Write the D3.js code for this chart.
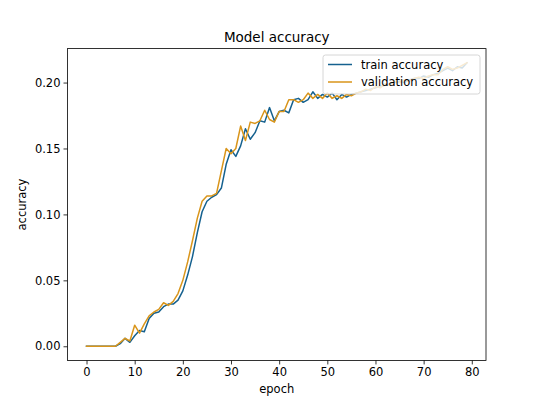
<!DOCTYPE html>
<html>
<head>
<meta charset="utf-8">
<script src="https://cdn.jsdelivr.net/npm/d3@7"></script>
<style>
  body { margin: 0; background: #fff; }
  text { font-family: "DejaVu Sans", sans-serif; fill: #000; }
</style>
</head>
<body>
<div id="chart"></div>
<script>
// accuracy per epoch
var trainAcc = [
  0, 0, 0, 0, 0, 0, 0, 0.002, 0.006, 0.003,
  0.008, 0.012, 0.011, 0.021, 0.025, 0.026, 0.030, 0.032, 0.032, 0.035,
  0.042, 0.054, 0.068, 0.086, 0.102, 0.110, 0.113, 0.115, 0.120, 0.138,
  0.149, 0.144, 0.152, 0.165, 0.157, 0.162, 0.171, 0.170, 0.181, 0.171,
  0.178, 0.179, 0.177, 0.187, 0.188, 0.185, 0.187, 0.193, 0.188, 0.191,
  0.189, 0.192, 0.187, 0.191, 0.189, 0.191, 0.192, 0.193, 0.194, 0.195,
  0.196, 0.197, 0.198, 0.199, 0.200, 0.201, 0.200, 0.202, 0.203, 0.203,
  0.205, 0.204, 0.206, 0.207, 0.209, 0.211, 0.209, 0.212, 0.211, 0.215
];
var valAcc = [
  0, 0, 0, 0, 0, 0, 0, 0.003, 0.006, 0.004,
  0.016, 0.010, 0.017, 0.023, 0.026, 0.028, 0.033, 0.031, 0.034, 0.040,
  0.050, 0.064, 0.080, 0.097, 0.110, 0.114, 0.114, 0.116, 0.133, 0.150,
  0.146, 0.150, 0.167, 0.156, 0.170, 0.169, 0.171, 0.179, 0.172, 0.170,
  0.178, 0.178, 0.187, 0.187, 0.185, 0.187, 0.192, 0.188, 0.191, 0.188,
  0.192, 0.188, 0.190, 0.188, 0.191, 0.190, 0.192, 0.193, 0.195, 0.194,
  0.197, 0.196, 0.199, 0.198, 0.201, 0.200, 0.202, 0.201, 0.203, 0.204,
  0.203, 0.205, 0.206, 0.206, 0.210, 0.212, 0.210, 0.211, 0.213, 0.215
];
var seriesNames = ["train accuracy", "validation accuracy"];
var seriesColors = ["#15618f", "#d9951a"];
var xTicks = [0, 10, 20, 30, 40, 50, 60, 70, 80];
var yTicks = [0.00, 0.05, 0.10, 0.15, 0.20];

var W = 540, H = 405;
var plotL = 67.5, plotR = 486, plotT = 48.6, plotB = 360.45;

var svg = d3.select("#chart").append("svg")
  .attr("width", W).attr("height", H);

// matplotlib style 5% margins
var n = trainAcc.length;
var xPad = (n - 1) * 0.05;
var yMax = d3.max(trainAcc.concat(valAcc));
var yPad = yMax * 0.05;

var x = d3.scaleLinear().domain([-xPad, n - 1 + xPad]).range([plotL, plotR]);
var y = d3.scaleLinear().domain([-yPad, yMax + yPad]).range([plotB, plotT]);

svg.append("clipPath").attr("id", "clip")
  .append("rect").attr("x", plotL).attr("y", plotT)
  .attr("width", plotR - plotL).attr("height", plotB - plotT);

var line = d3.line()
  .x(function (d, i) { return x(i); })
  .y(function (d) { return y(d); });

[trainAcc, valAcc].forEach(function (s, k) {
  svg.append("path")
    .attr("d", line(s))
    .attr("clip-path", "url(#clip)")
    .attr("fill", "none")
    .attr("stroke", seriesColors[k])
    .attr("stroke-width", 1.5)
    .attr("stroke-linejoin", "round")
    .attr("stroke-linecap", "square");
});

// axes
var xAxis = svg.append("g")
  .attr("transform", "translate(0," + plotB + ")")
  .call(d3.axisBottom(x).tickValues(xTicks).tickSize(4).tickPadding(3));
var yAxis = svg.append("g")
  .attr("transform", "translate(" + plotL + ",0)")
  .call(d3.axisLeft(y).tickValues(yTicks).tickFormat(d3.format(".2f")).tickSize(4).tickPadding(3));

[xAxis, yAxis].forEach(function (a) {
  a.select(".domain").remove();
  a.selectAll("line").attr("stroke", "#000").attr("stroke-width", 0.8);
  a.selectAll("text").style("font-size", "11.5px").style("font-family", "DejaVu Sans");
});

// frame
svg.append("rect")
  .attr("x", plotL).attr("y", plotT)
  .attr("width", plotR - plotL).attr("height", plotB - plotT)
  .attr("fill", "none").attr("stroke", "#000").attr("stroke-width", 0.8);

// labels
svg.append("text")
  .attr("x", (plotL + plotR) / 2).attr("y", plotT - 7)
  .attr("text-anchor", "middle")
  .style("font-size", "13.5px")
  .text("Model accuracy");
svg.append("text")
  .attr("x", (plotL + plotR) / 2).attr("y", 393)
  .attr("text-anchor", "middle")
  .style("font-size", "11.5px")
  .text("epoch");
svg.append("text")
  .attr("transform", "translate(26," + (plotT + plotB) / 2 + ") rotate(-90)")
  .attr("text-anchor", "middle")
  .style("font-size", "11.5px")
  .text("accuracy");

// legend, semi transparent like matplotlib
var lg = svg.append("g");
lg.append("rect")
  .attr("x", 323).attr("y", 55)
  .attr("width", 157).attr("height", 39)
  .attr("rx", 2.5)
  .attr("fill", "#fff").attr("fill-opacity", 0.8)
  .attr("stroke", "#ccc").attr("stroke-width", 0.8);
seriesNames.forEach(function (name, k) {
  var yy = 64.5 + k * 17.5;
  lg.append("line")
    .attr("x1", 328).attr("x2", 352)
    .attr("y1", yy).attr("y2", yy)
    .attr("stroke", seriesColors[k]).attr("stroke-width", 1.5);
  lg.append("text")
    .attr("x", 361).attr("y", yy + 4)
    .style("font-size", "11.5px")
    .text(name);
});
</script>
</body>
</html>
